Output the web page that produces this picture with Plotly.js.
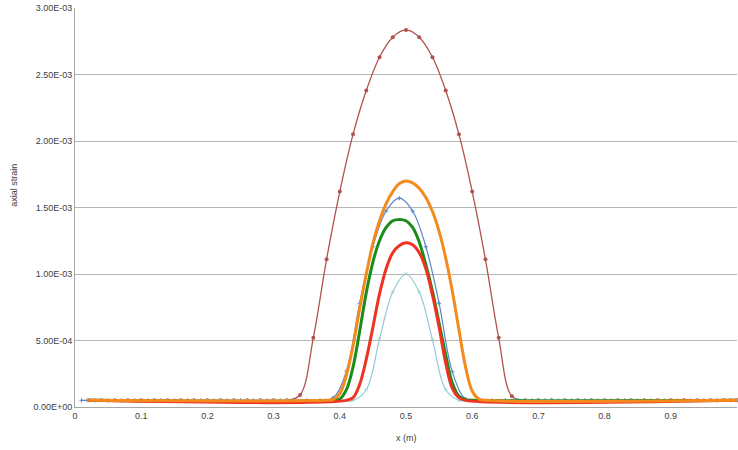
<!DOCTYPE html>
<html>
<head>
<meta charset="utf-8">
<script src="https://cdn.plot.ly/plotly-3.0.1.min.js"></script>
<style>html,body{margin:0;padding:0;background:#fff;}#chart{width:738px;height:450px;}</style>
</head>
<body>
<div id="chart"></div>
<script>
// ---- data ----
var xEven = [0.02,0.04,0.06,0.08,0.10,0.12,0.14,0.16,0.18,0.20,0.22,0.24,0.26,0.28,0.30,0.32,
             0.34,0.36,0.38,0.40,0.42,0.44,0.46,0.48,0.50,0.52,0.54,0.56,0.58,0.60,0.62,0.64,0.66,
             0.68,0.70,0.72,0.74,0.76,0.78,0.80,0.82,0.84,0.86,0.88,0.90,0.92,0.94,0.96,0.98,1.00];
var xOdd = [0.01,0.03,0.05,0.07,0.09,0.11,0.13,0.15,0.17,0.19,0.21,0.23,0.25,0.27,0.29,0.31,0.33,0.35,0.37,
            0.39,0.41,0.43,0.45,0.47,0.49,0.51,0.53,0.55,0.57,0.59,
            0.61,0.63,0.65,0.67,0.69,0.71,0.73,0.75,0.77,0.79,0.81,0.83,0.85,0.87,0.89,0.91,0.93,0.95,0.97,0.99];

var brownStrain = [5e-5,5e-5,5e-5,5e-5,5e-5,5e-5,5e-5,5e-5,5e-5,5e-5,5e-5,5e-5,5e-5,5e-5,5e-5,5e-5,
                   9e-5,5.2e-4,1.11e-3,1.62e-3,2.05e-3,2.38e-3,2.63e-3,2.78e-3,2.835e-3,2.78e-3,2.63e-3,2.38e-3,2.05e-3,1.62e-3,1.11e-3,5.2e-4,8e-5,
                   5e-5,5e-5,5e-5,5e-5,5e-5,5e-5,5e-5,5e-5,5e-5,5e-5,5e-5,5e-5,5e-5,5e-5,5e-5,5e-5,5e-5];

var blueStrain = [5e-5,5e-5,5e-5,5e-5,5e-5,5e-5,5e-5,5e-5,5e-5,5e-5,5e-5,5e-5,5e-5,5e-5,5e-5,5e-5,5e-5,5e-5,5e-5,
                  7e-5,2.7e-4,7.8e-4,1.205e-3,1.474e-3,1.57e-3,1.474e-3,1.205e-3,7.8e-4,2.65e-4,6e-5,
                  5e-5,5e-5,5e-5,5e-5,5e-5,5e-5,5e-5,5e-5,5e-5,5e-5,5e-5,5e-5,5e-5,5e-5,5e-5,5e-5,5e-5,5e-5,5e-5,5e-5];

var cyanStrain = [5e-5,5e-5,5e-5,5e-5,5e-5,5e-5,5e-5,5e-5,5e-5,5e-5,5e-5,5e-5,5e-5,5e-5,5e-5,5e-5,5e-5,5e-5,5e-5,5e-5,5e-5,
                  1.3e-4,5.1e-4,8.65e-4,1.0e-3,8.65e-4,5.05e-4,1.3e-4,
                  5e-5,5e-5,5e-5,5e-5,5e-5,5e-5,5e-5,5e-5,5e-5,5e-5,5e-5,5e-5,5e-5,5e-5,5e-5,5e-5,5e-5,5e-5,5e-5,5e-5,5e-5,5e-5];

var xOrange = [0.02,0.38,0.39,0.40,0.41,0.42,0.43,0.44,0.45,0.46,0.47,0.48,0.49,0.50,
               0.51,0.52,0.53,0.54,0.55,0.56,0.57,0.58,0.59,0.60,0.61,0.62,1.00];
var orangeStrain = [5e-5,5e-5,5.5e-5,1.0e-4,2.4e-4,4.6e-4,7.4e-4,1.00e-3,1.23e-3,1.40e-3,1.53e-3,1.62e-3,1.68e-3,1.70e-3,
                    1.685e-3,1.645e-3,1.575e-3,1.47e-3,1.32e-3,1.12e-3,8.7e-4,5.8e-4,3.0e-4,1.2e-4,6e-5,5e-5,5e-5];

var xGreen = [0.02,0.39,0.40,0.41,0.42,0.43,0.44,0.45,0.46,0.47,0.48,0.49,0.50,
              0.51,0.52,0.53,0.54,0.55,0.56,0.57,0.58,0.59,0.60,1.00];
var greenStrain = [5e-5,5e-5,6e-5,1.3e-4,3.0e-4,5.7e-4,8.6e-4,1.09e-3,1.25e-3,1.35e-3,1.40e-3,1.41e-3,1.40e-3,
                   1.35e-3,1.24e-3,1.07e-3,8.7e-4,6.3e-4,3.9e-4,1.8e-4,8e-5,5.5e-5,5e-5,5e-5];

var xRed = [0.02,0.41,0.42,0.43,0.44,0.45,0.46,0.47,0.48,0.49,0.50,
            0.51,0.52,0.53,0.54,0.55,0.56,0.57,0.58,0.59,1.00];
var redStrain = [5e-5,5e-5,7e-5,1.7e-4,3.6e-4,6.0e-4,8.5e-4,1.04e-3,1.16e-3,1.215e-3,1.235e-3,
                 1.22e-3,1.16e-3,1.04e-3,8.4e-4,6.0e-4,3.3e-4,1.4e-4,7e-5,5e-5,5e-5];

var yTickVals = [0, 5e-4, 1e-3, 1.5e-3, 2e-3, 2.5e-3, 3e-3];
var yTickText = ["0.00E+00","5.00E-04","1.00E-03","1.50E-03","2.00E-03","2.50E-03","3.00E-03"];
var xTickVals = [0,0.1,0.2,0.3,0.4,0.5,0.6,0.7,0.8,0.9,1];
var xTickText = ["0","0.1","0.2","0.3","0.4","0.5","0.6","0.7","0.8","0.9","1"];

// ---- traces ----
function sp(x, y, color, width, marker) {
  var t = {x: x, y: y, type: 'scatter', mode: marker ? 'lines+markers' : 'lines',
           line: {color: color, width: width, shape: 'spline', smoothing: 1},
           hoverinfo: 'skip', showlegend: false, cliponaxis: false};
  if (marker) t.marker = marker;
  return t;
}
var traces = [
  sp(xEven, brownStrain, '#B0524E', 1.3, {symbol: 'circle', size: 4, color: '#B0524E'}),
  sp(xOdd, blueStrain, '#5A86C6', 1.2, {symbol: 'cross-thin', size: 3, line: {color: '#5A86C6', width: 1}}),
  sp(xEven, cyanStrain, '#93CAD3', 1.2, {symbol: 'x-thin', size: 3, line: {color: '#93CAD3', width: 1}}),
  sp(xGreen, greenStrain, '#1A8C1A', 3, null),
  sp(xRed, redStrain, '#EE3322', 3, null),
  sp(xOrange, orangeStrain, '#F48A1C', 3, null)
];

var tickFont = {family: 'Liberation Sans, Arial, sans-serif', size: 9, color: '#404040'};
var layout = {
  width: 738, height: 450,
  margin: {l: 75, r: 1, t: 8, b: 43, pad: 0},
  paper_bgcolor: '#ffffff', plot_bgcolor: '#ffffff',
  xaxis: {range: [0, 1], tickvals: xTickVals, ticktext: xTickText, showgrid: false, zeroline: false,
          showline: true, linecolor: '#A6A6A6', linewidth: 1, ticks: '', tickfont: tickFont, fixedrange: true},
  yaxis: {range: [0, 3e-3], tickvals: yTickVals, ticktext: yTickText, showgrid: true, gridcolor: '#B5B5B5', gridwidth: 1,
          zeroline: false, showline: true, linecolor: '#A6A6A6', linewidth: 1, ticks: '', ticklen: 0,
          tickfont: tickFont, fixedrange: true},
  annotations: [
    {text: 'axial strain', xref: 'paper', yref: 'paper', x: -0.0935, y: 0.555, textangle: -90, showarrow: false,
     font: {family: 'Liberation Sans, Arial, sans-serif', size: 9, color: '#404040'}, xanchor: 'center', yanchor: 'middle'},
    {text: 'x (m)', xref: 'paper', yref: 'paper', x: 0.5, y: -0.077, showarrow: false,
     font: {family: 'Liberation Sans, Arial, sans-serif', size: 9, color: '#404040'}, xanchor: 'center', yanchor: 'middle'}
  ]
};
Plotly.newPlot('chart', traces, layout, {staticPlot: true, displayModeBar: false});
</script>
</body>
</html>
